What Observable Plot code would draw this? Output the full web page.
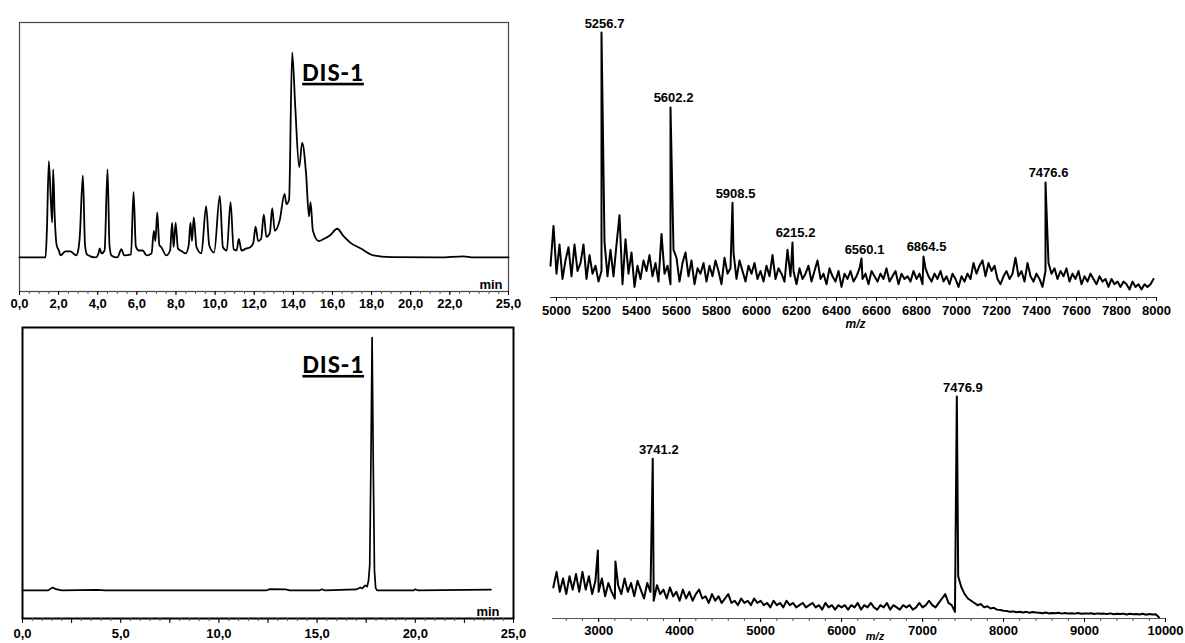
<!DOCTYPE html>
<html><head><meta charset="utf-8">
<script src="https://cdn.jsdelivr.net/npm/d3@7"></script>
<script src="https://cdn.jsdelivr.net/npm/@observablehq/plot@0.6"></script>
<style>
body{margin:0;background:#fff;}
#wrap{position:relative;width:1185px;height:643px;overflow:hidden;background:#fff;}
#wrap svg{position:absolute;overflow:visible;}
</style></head><body><div id="wrap"></div>
<script>
// ---------- Panel A: crude HPLC chromatogram (time in min, signal arbitrary units) ----------
const chromA_time = [0,1.33,1.40,1.50,1.60,1.67,1.72,1.80,1.90,2.01,2.1,2.35,2.6,2.9,3.0,3.08,3.24,3.35,3.45,3.9,4.05,4.1,4.2,4.35,4.5,4.6,4.7,5.0,5.21,5.35,5.7,5.83,5.95,6.1,6.3,6.5,6.75,6.87,6.95,7.04,7.15,7.25,7.5,7.7,7.8,7.88,7.98,8.1,8.3,8.5,8.65,8.74,8.82,8.91,9.05,9.3,9.54,9.7,9.95,10.24,10.4,10.6,10.79,10.95,11.1,11.21,11.35,11.6,11.8,11.95,12.07,12.2,12.35,12.49,12.62,12.8,12.92,13.05,13.3,13.55,13.65,13.78,13.94,14.1,14.3,14.45,14.65,14.8,14.88,15.0,15.3,15.55,15.9,16.24,16.6,16.94,17.45,18.1,19.0,21.5,22.7,23.2,25];
const chromA_signal = [0,0,13,47,28,17,43,20,6,3.4,1,3,3,1,3.4,10,40,6,1.5,0,2.4,4.4,2,3.4,43,6,1,0,4,1,1.5,32,5.4,3.4,3.4,1,2,13,8,22,6,5,1,3.4,17,5,17,4.4,3,2,6,17,8,19.5,5,2,25,6,2.4,30,5,3.4,27,4,3.4,9,3.4,4.4,5,7,15,8,9,21,10,12,24,13,18,31,26,28,100,73,44,56,41,20,27,13,8,9,11,14,10,7,4.4,1,0.2,0,0.5,0,0];
const chromA_ticks = [0,2,4,6,8,10,12,14,16,18,20,22,25];
const chromA_peak = [{t: 13.94, v: 100, label: "DIS-1"}];

// ---------- Panel B: MALDI spectrum of crude (m/z vs intensity) ----------
const msB_start = 4970, msB_step = 15;
const msB_noise = [
 12,27,9,20,7,14,19,8,20,10, 13,20,7,16,9,12,6,10,21,8, 18,8,20,31,5,22,9,17,4,12,
 7,14,10,16,8,13,6,24,9,12, 5,18,15,6,13,17,8,14,5,11, 9,13,6,12,8,14,10,5,15,9,
 11,17,7,14,10,6,12,9,13,7, 10,6,12,8,16,7,11,9,6,18, 8,10,5,11,7,9,12,6,10,14,
 7,9,5,11,8,6,10,4,9,7, 10,6,8,11,7,9,5,10,8,6, 9,7,11,6,8,10,5,9,7,8,
 6,10,7,9,5,11,8,6,9,7, 10,6,8,5,9,7,4,8,6,9, 7,13,9,12,14,8,13,10,12,7,
 5,8,10,7,9,15,8,10,6,13, 8,6,9,7,4,10,13,9,11,7, 10,8,11,6,9,7,10,5,8,6,
 9,7,5,8,6,7,4,7,5,6, 4,6,5,3,6,4,5,3,5,4, 5,7];
const msB_peakMz = [5225, 5570, 5880, 6180, 6525, 6835, 7445];
const msB_peakInt = [100, 71.7, 35.8, 20.8, 14.7, 15.5, 43.4];
const msB_peakLabel = ["5256.7", "5602.2", "5908.5", "6215.2", "6560.1", "6864.5", "7476.6"];
const msB_ticks = [5000,5200,5400,5600,5800,6000,6200,6400,6600,6800,7000,7200,7400,7600,7800,8000];

// ---------- Panel C: purified HPLC chromatogram ----------
const chromC_time = [0,1.3,1.45,1.55,1.7,2.0,3.8,4.2,12.4,12.6,13.4,13.6,15.1,15.25,15.4,17.0,17.2,17.3,17.45,17.55,17.62,17.68,17.74,17.8,17.86,17.92,17.98,18.05,19.9,20.0,20.15,23.85];
const chromC_signal = [0,0,0.8,1.2,0.5,0,0.2,0,0,0.5,0.4,0,0,0.5,0,0.4,1.2,0.8,2,1.5,4,10,50,100,50,8,1,0,0,0.5,0,0.3];
const chromC_ticks = [0,5,10,15,20,25];
const chromC_peak = [{t: 17.8, v: 100, label: "DIS-1"}];

// ---------- Panel D: MALDI spectrum of purified ----------
const msD_start = 2440, msD_step = 40;
const msD_noise = [
 14,21,12,18,11,19,13,20,12,21, 13,19,11,17,12,18,10,16,12,9, 15,11,18,12,16,10,17,13,9,16,
 12,8,15,11,13,9,14,10,12,8, 13,9,12,8,11,13,9,10,7,11, 8,10,7,9,11,7,8,6,9,7,
 8,6,9,7,8,6,7,5,8,6, 7,5,8,6,7,5,6,7,5,6, 7,5,6,4,7,5,6,4,6,5,
 6,4,6,5,7,4,6,5,7,5, 4,6,5,7,4,6,5,4,6,5, 6,4,5,7,5,6,8,6,5,7,
 9,11,7,6,3,19,14,11,9,8, 7,6,6.5,5,5.5,4.5,4.8,4,3.8,3.5, 3.4,3,3.2,2.8,3,2.7,3,2.6,2.9,2.7,
 2.6,2.4,2.7,2.3,2.5,2.4,2.6,2.2,2.5,2.3, 2.4,2.2,2.5,2.1,2.3,2.2,2.4,2,2.3,2.1, 2.2,2,2.3,1.9,2.1,2,2.2,1.8,2.1,1.9,
 2,1.8,2.1,1.7,2,1.8,1.9,0.5];
const msD_peakMz = [2990, 3207, 3668, 7423];
const msD_peakInt = [30.6, 25.7, 72, 100];
const msD_peakLabel = ["", "", "3741.2", "7476.9"];
const msD_ticks = [3000,4000,5000,6000,7000,8000,9000,10000];

// ---------- build tables ----------
const chromA = chromA_time.map((t, i) => ({t, v: chromA_signal[i]}));
const chromC = chromC_time.map((t, i) => ({t, v: chromC_signal[i]}));
function spectrum(start, step, noise, pmz, pint) {
  return noise.map((v, i) => ({mz: start + i * step, v}))
    .concat(pmz.map((mz, i) => ({mz, v: pint[i]})))
    .sort((a, b) => a.mz - b.mz);
}
const msB = spectrum(msB_start, msB_step, msB_noise, msB_peakMz, msB_peakInt);
const msD = spectrum(msD_start, msD_step, msD_noise, msD_peakMz, msD_peakInt);
const msB_labels = msB_peakMz.map((mz, i) => ({mz, v: msB_peakInt[i], label: msB_peakLabel[i]}));
const msD_labels = msD_peakMz.map((mz, i) => ({mz, v: msD_peakInt[i], label: msD_peakLabel[i]})).filter(d => d.label);

const fmtComma = d => d.toFixed(1).replace(".", ",");
const fmtPlain = d => String(d);
const blank = () => "";
const tickFont = "'Liberation Sans Narrow','Arial Narrow','Liberation Sans',Arial,sans-serif";
const labelFont = "'Liberation Sans',Arial,sans-serif";
const baseStyle = {fontFamily: tickFont, fontSize: "13px", fontWeight: "bold", color: "black", background: "transparent", overflow: "visible"};
const disFont = "Carlito, Lato, 'Liberation Sans', sans-serif";

const wrap = document.getElementById("wrap");
function place(svg, left, top) {
  svg.style.left = left + "px"; svg.style.top = top + "px";
  wrap.appendChild(svg);
  d3.select(svg).selectAll("text").filter(function() { return this.textContent === "DIS-1"; })
    .style("text-decoration", "underline").style("letter-spacing", "1px");
}

// Panel A
place(Plot.plot({
  width: 530, height: 320, marginLeft: 19, marginRight: 22, marginTop: 22, marginBottom: 29,
  x: {domain: [0, 25], axis: null}, y: {domain: [-16.6, 114.6], axis: null},
  style: baseStyle,
  marks: [
    Plot.frame({stroke: "#444", strokeWidth: 1.2}),
    Plot.axisX({ticks: d3.range(0, 25.01, 0.5), tickSize: 3, tickFormat: blank, label: null, stroke: "#555"}),
    Plot.axisX({ticks: chromA_ticks, tickSize: 4, tickPadding: 3, tickFormat: fmtComma, label: null}),
    Plot.line(chromA, {x: "t", y: "v", stroke: "black", strokeWidth: 1.8, strokeLinejoin: "round", curve: "monotone-x"}),
    Plot.text(chromA_peak, {x: "t", y: "v", text: "label", dx: 10, dy: 20, textAnchor: "start", fontSize: 26, fontFamily: disFont, fontWeight: "bold"}),
    Plot.text(["min"], {frameAnchor: "bottom-right", dx: -6, dy: -3, lineAnchor: "bottom", textAnchor: "end", fontFamily: labelFont})
  ]
}), 0, 0);

// Panel B
place(Plot.plot({
  width: 655, height: 330, marginLeft: 20, marginRight: 29, marginTop: 32, marginBottom: 33,
  x: {domain: [4970, 8000], axis: null}, y: {domain: [0, 100], axis: null},
  style: baseStyle,
  marks: [
    Plot.ruleY([0], {stroke: "#333", strokeWidth: 1}),
    Plot.axisX({ticks: d3.range(5000, 8001, 50), tickSize: 3, tickFormat: blank, label: null, stroke: "#555"}),
    Plot.axisX({ticks: msB_ticks, tickSize: 4, tickPadding: 4, tickFormat: fmtPlain, label: null}),
    Plot.line(msB, {x: "mz", y: "v", stroke: "black", strokeWidth: 2, strokeLinejoin: "round"}),
    Plot.text(msB_labels, {x: "mz", y: "v", text: "label", dx: 3, dy: -5, lineAnchor: "bottom", fontFamily: labelFont, fontSize: 13}),
    Plot.text(["m/z"], {frameAnchor: "bottom", dx: 2, dy: 30, fontStyle: "italic", fontFamily: labelFont, fontSize: 12})
  ]
}), 530, 0);

// Panel C
place(Plot.plot({
  width: 530, height: 323, marginLeft: 22, marginRight: 17, marginTop: 7, marginBottom: 25,
  x: {domain: [0, 25], axis: null}, y: {domain: [-11.1, 104], axis: null},
  style: baseStyle,
  marks: [
    Plot.frame({stroke: "black", strokeWidth: 2}),
    Plot.axisX({ticks: d3.range(0, 25.01, 0.5), tickSize: 3, tickFormat: blank, label: null, stroke: "#555"}),
    Plot.axisX({ticks: d3.range(2.5, 25, 5), tickSize: 5, tickFormat: blank, label: null}),
    Plot.axisX({ticks: chromC_ticks, tickSize: 5, tickPadding: 5, tickFormat: fmtComma, label: null}),
    Plot.line(chromC, {x: "t", y: "v", stroke: "black", strokeWidth: 1.7, strokeLinejoin: "round"}),
    Plot.text(chromC_peak, {x: "t", y: "v", text: "label", dx: -8, dy: 27, textAnchor: "end", fontSize: 26, fontFamily: disFont, fontWeight: "bold"}),
    Plot.text(["min"], {frameAnchor: "bottom-right", dx: -14, dy: -3, lineAnchor: "bottom", textAnchor: "end", fontFamily: labelFont})
  ]
}), 0, 320);

// Panel D
place(Plot.plot({
  width: 655, height: 323, marginLeft: 22, marginRight: 20, marginTop: 76, marginBottom: 25,
  x: {domain: [2430, 10000], axis: null}, y: {domain: [0, 100], axis: null},
  style: baseStyle,
  marks: [
    Plot.ruleY([0], {stroke: "#555", strokeWidth: 1}),
    Plot.axisX({ticks: d3.range(2600, 10001, 200), tickSize: 3, tickFormat: blank, label: null, stroke: "#555"}),
    Plot.axisX({ticks: msD_ticks, tickSize: 4, tickPadding: 3, tickFormat: fmtPlain, label: null}),
    Plot.line(msD, {x: "mz", y: "v", stroke: "black", strokeWidth: 2, strokeLinejoin: "round"}),
    Plot.text(msD_labels, {x: "mz", y: "v", text: "label", dx: 6, dy: -5, lineAnchor: "bottom", fontFamily: labelFont, fontSize: 13}),
    Plot.text(["m/z"], {frameAnchor: "bottom", dx: 16, dy: 21, fontStyle: "italic", fontFamily: labelFont, fontSize: 11})
  ]
}), 530, 320);
</script></body></html>
